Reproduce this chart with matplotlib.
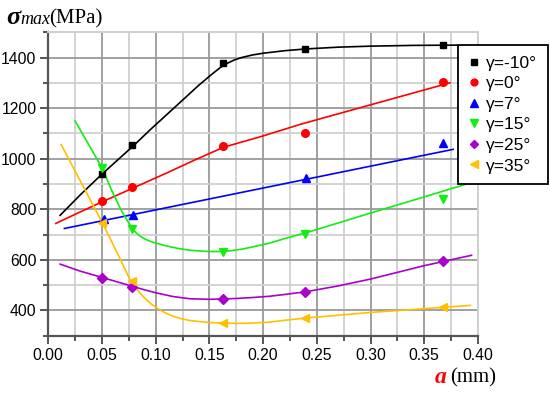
import matplotlib
matplotlib.use("Agg")
import matplotlib.pyplot as plt
from matplotlib.ticker import MultipleLocator, FormatStrFormatter

# measured points: crack length a (mm) vs sigma_max (MPa)
a_pts = [0.0497, 0.078, 0.163, 0.239, 0.367]
a_pts_7 = [0.052, 0.079, 0.163, 0.240, 0.367]

sig_m10 = [939, 1054, 1378, 1434, 1449]
sig_0 = [831, 888, 1049, 1103, 1303]
sig_7 = [762, 779, None, 923, 1063]
sig_15 = [962, 720, 632, 704, 842]
sig_25 = [530, 492, 447, 474, 595]
sig_35 = [744, 518, 350, 371, 413]

# fitted curves
fit_x_m10 = [0.011, 0.03, 0.05, 0.08, 0.095, 0.12, 0.14, 0.152, 0.16, 0.166, 0.173, 0.18, 0.19, 0.20, 0.21, 0.22, 0.24, 0.27, 0.30, 0.34, 0.38]
fit_y_m10 = [776, 858, 939, 1054, 1115, 1212, 1290, 1333, 1360, 1376, 1390, 1400, 1410, 1417, 1422, 1427, 1434, 1441, 1445, 1448, 1449]

fit_x_0 = [0.007, 0.03, 0.05, 0.08, 0.11, 0.137, 0.163, 0.2, 0.234, 0.3, 0.374]
fit_y_0 = [744, 790, 829, 886, 943, 996, 1045, 1090, 1135, 1213, 1300]

fit_x_7 = [0.015, 0.377]
fit_y_7 = [724, 1037]

fit_x_15 = [0.025, 0.05, 0.059, 0.068, 0.074, 0.078, 0.082, 0.086, 0.091, 0.097, 0.104, 0.112, 0.122, 0.132, 0.141, 0.15, 0.16, 0.17, 0.18, 0.19, 0.206, 0.22, 0.24, 0.27, 0.30, 0.35, 0.395]
fit_y_15 = [1149, 964, 875, 795, 752, 725, 706, 692, 680, 670, 662, 653, 644, 638, 635, 633, 633, 636, 642, 651, 666, 684, 707, 746, 785, 849, 907]

fit_x_25 = [0.011, 0.03, 0.0497, 0.0785, 0.09, 0.1008, 0.116, 0.132, 0.15, 0.163, 0.178, 0.19, 0.206, 0.22, 0.24, 0.27, 0.30, 0.35, 0.394]
fit_y_25 = [583, 555, 531, 495, 481, 469, 455, 446, 444, 445, 448, 451, 456, 463, 474, 497, 524, 577, 618]

fit_x_35 = [0.012, 0.03, 0.0497, 0.065, 0.076, 0.081, 0.0853, 0.09, 0.095, 0.1008, 0.108, 0.116, 0.124, 0.132, 0.141, 0.15, 0.163, 0.178, 0.19, 0.206, 0.22, 0.24, 0.30, 0.35, 0.393]
fit_y_35 = [1056, 910, 752, 620, 522, 492, 469, 448, 428, 410, 392, 377, 367, 360, 356, 352, 350, 349, 350, 354, 361, 370, 392, 407, 420]

labels = ["γ=-10°", "γ=0°", "γ=7°", "γ=15°", "γ=25°", "γ=35°"]
colors = ["black", "#ff0000", "#0000ff", "#11ee11", "#aa00cc", "#ffc000"]
markers = ["s", "o", "^", "v", "D", "<"]
msizes = [5, 5.5, 6, 6, 5, 6]


def main():
    plt.rcParams['font.family'] = ['Liberation Sans', 'DejaVu Sans']
    fig = plt.figure(figsize=(5.5, 3.98), dpi=100)
    ax = fig.add_axes([0.0878, 0.1565, 0.7812, 0.7625])

    series = [
        (a_pts, sig_m10, fit_x_m10, fit_y_m10),
        (a_pts, sig_0, fit_x_0, fit_y_0),
        (a_pts_7, sig_7, fit_x_7, fit_y_7),
        (a_pts, sig_15, fit_x_15, fit_y_15),
        (a_pts, sig_25, fit_x_25, fit_y_25),
        (a_pts, sig_35, fit_x_35, fit_y_35),
    ]
    for (px, py, fx, fy), lab, c, m, ms in zip(series, labels, colors, markers, msizes):
        ax.plot(fx, fy, color=c, lw=1.2, zorder=3)
        pts = [(x, y) for x, y in zip(px, py) if y is not None]
        ax.plot([p[0] for p in pts], [p[1] for p in pts], ls="none",
                marker=m, ms=ms, color=c, label=lab, zorder=4)

    ax.set_xlim(0, 0.40)
    ax.set_ylim(300, 1500)
    ax.xaxis.set_major_locator(MultipleLocator(0.05))
    ax.xaxis.set_minor_locator(MultipleLocator(0.025))
    ax.yaxis.set_major_locator(MultipleLocator(200))
    ax.yaxis.set_minor_locator(MultipleLocator(100))
    ax.xaxis.set_major_formatter(FormatStrFormatter("%.2f"))

    ax.set_axisbelow(True)
    ax.grid(which="major", color="#9a9a9a", lw=1.3)
    ax.grid(which="minor", color="#d0d0d0", lw=1.3)
    for s in ["left", "bottom"]:
        ax.spines[s].set_color("#555555")
        ax.spines[s].set_linewidth(1.6)
    for s in ["top", "right"]:
        ax.spines[s].set_color("#d0d0d0")
        ax.spines[s].set_linewidth(1.4)
    ax.tick_params(which="major", length=6, width=1.4, color="#555555",
                   labelsize=11.3, pad=2.5)
    ax.tick_params(which="minor", length=3.6, width=1.4, color="#555555")

    leg = ax.legend(loc="upper left", bbox_to_anchor=(0.833, 0.887),
                    bbox_transform=fig.transFigure, borderaxespad=0,
                    fancybox=False, edgecolor="black", framealpha=1,
                    fontsize=12.5, handlelength=0.6, handletextpad=0.4,
                    labelspacing=0.31, borderpad=0.62, markerscale=0.9)
    leg.get_frame().set_linewidth(1.3)

    # y axis title
    fig.text(6 / 550, 0.94, "σ", fontsize=19, family="Liberation Serif",
             style="italic", weight="bold", va="baseline")
    fig.text(20 / 550, 0.94, "max", fontsize=13, family="Liberation Serif",
             style="italic", va="baseline")
    fig.text(49 / 550, 0.94, "(MPa)", fontsize=15, family="Liberation Serif",
             va="baseline")

    # x axis title
    fig.text(435 / 550, 0.038, "a", fontsize=17, family="Liberation Serif",
             style="italic", weight="bold", color="#ff0000", va="baseline")
    fig.text(450 / 550, 0.038, "(mm)", fontsize=15, family="Liberation Serif",
             va="baseline")

    fig.savefig("out.png", dpi=100)


if __name__ == "__main__":
    main()
